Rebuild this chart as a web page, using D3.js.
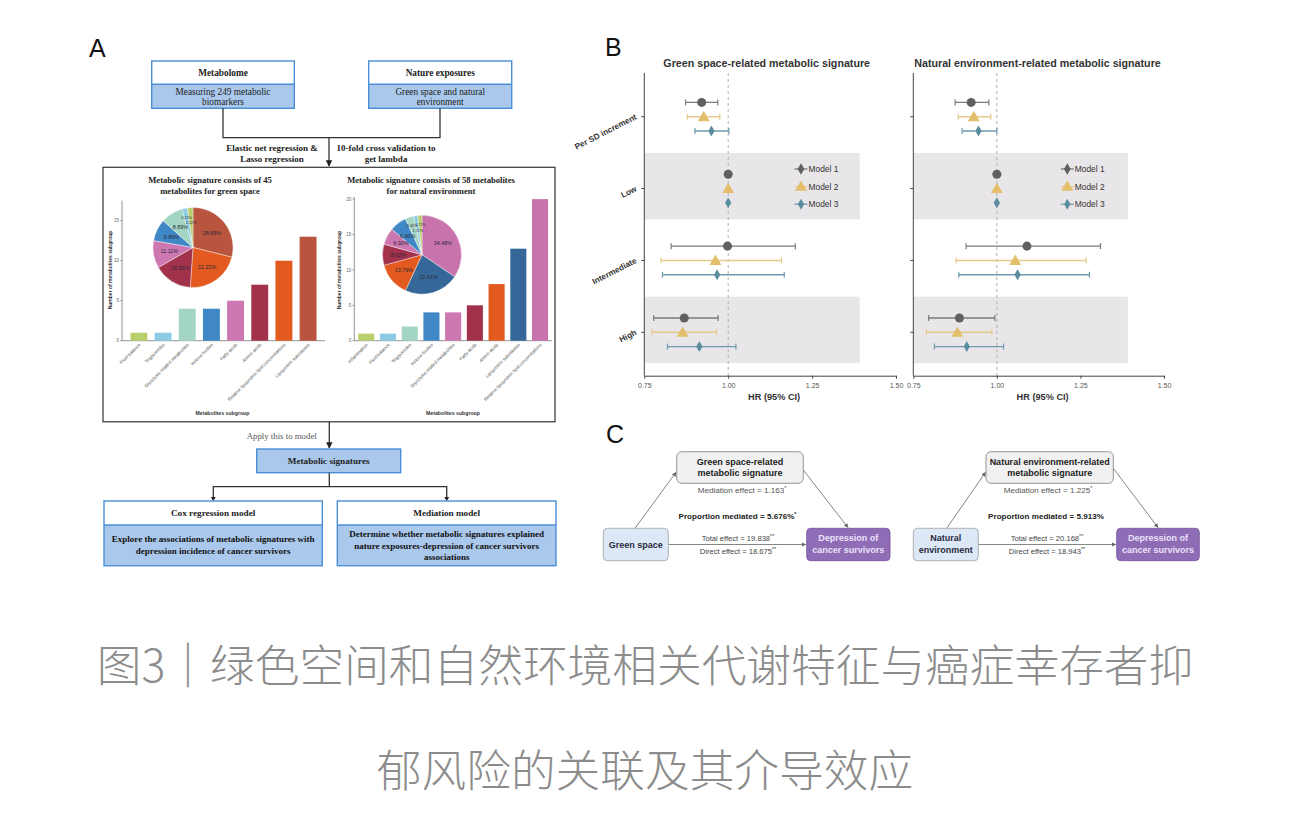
<!DOCTYPE html>
<html><head><meta charset="utf-8">
<script src="https://cdn.jsdelivr.net/npm/d3@7"></script>
<style>body{margin:0;background:#fff}svg{display:block}</style>
</head><body>
<svg id="c" width="1290" height="823"></svg>
<script>
// ---------------- DATA ----------------
const greenCats = ["Fluid balance","Triglycerides","Glycolysis related metabolites","Ketone bodies","Fatty acids","Amino acids","Relative lipoprotein lipid concentrations","Lipoprotein subclasses"];
const greenCounts = [1,1,4,4,5,7,10,13];
const greenTicks = [0,5,10,15];
const naturalCats = ["Inflammation","Fluid balance","Triglycerides","Ketone bodies","Glycolysis related metabolites","Fatty acids","Amino acids","Lipoprotein subclasses","Relative lipoprotein lipid concentrations"];
const naturalCounts = [1,1,2,4,4,5,8,13,20];
const naturalTicks = [0,5,10,15,20];

const forestCats = ["Per SD increment","Low","Intermediate","High"];
const modelNames = ["Model 1","Model 2","Model 3"];
const hrTicks = [0.75,1.00,1.25,1.50];
// [category][model]
const greenHR   = [[0.921,0.927,0.950],[1,1,1],[0.998,0.962,0.967],[0.869,0.864,0.914]];
const greenLo   = [[0.873,0.878,0.901],[null,null,null],[0.830,0.800,0.804],[0.778,0.773,0.819]];
const greenHi   = [[0.969,0.975,1.002],[null,null,null],[1.200,1.159,1.167],[0.970,0.965,1.023]];
const naturalHR = [[0.923,0.931,0.945],[1,1,1],[1.090,1.055,1.062],[0.888,0.882,0.910]];
const naturalLo = [[0.875,0.884,0.896],[null,null,null],[0.908,0.878,0.886],[0.796,0.789,0.813]];
const naturalHi = [[0.976,0.982,1.000],[null,null,null],[1.310,1.267,1.277],[0.994,0.985,1.020]];

const medExposure = [["Green space"],["Natural","environment"]];
const medSignature = [["Green space-related","metabolic signature"],["Natural environment-related","metabolic signature"]];
const medEffect = ["1.163","1.225"];
const medEffectSig = ["*","*"];
const medProportion = ["5.676%","5.913%"];
const medProportionSig = ["*",""];
const medTotal = ["19.838","20.168"];
const medDirect = ["18.675","18.943"];

// ---------------- STYLES ----------------
const C = {yg:"#b8cf6c",lb:"#8ccbe3",mint:"#a3d5c3",blue:"#3f88c5",pink:"#cd78b1",dred:"#a2324b",orange:"#e25a1f",brick:"#b9543f",dblue:"#356899",pink2:"#c873ac"};
const greenColors = [C.yg,C.lb,C.mint,C.blue,C.pink,C.dred,C.orange,C.brick];
const naturalColors = [C.yg,C.lb,C.mint,C.blue,C.pink,C.dred,C.orange,C.dblue,C.pink2];
const modelColors = ["#606060","#e3bf6c","#5a8d9f"];
const modelBarColors = ["#7a7a7a","#e7c98c","#6e9bab"];
const SERIF = "'Liberation Serif','Times New Roman',serif";
const SANS = "'Liberation Sans',Arial,Helvetica,sans-serif";

const svg = d3.select("#c");
svg.append("rect").attr("width",1290).attr("height",823).attr("fill","#fff");

// defs: arrowheads
const defs = svg.append("defs");
defs.append("marker").attr("id","arrA").attr("viewBox","0 0 10 10").attr("refX",9).attr("refY",5)
  .attr("markerWidth",5).attr("markerHeight",5).attr("orient","auto")
  .append("path").attr("d","M0,0L10,5L0,10z").attr("fill","#222");
defs.append("marker").attr("id","arrC").attr("viewBox","0 0 10 10").attr("refX",9).attr("refY",5)
  .attr("markerWidth",5).attr("markerHeight",5).attr("orient","auto")
  .append("path").attr("d","M0,0L10,5L0,10z").attr("fill","#666");

// ---------------- PANEL LABELS ----------------
[["A",89,57],["B",605,56],["C",606,443]].forEach(([t,x,y])=>{
  svg.append("text").attr("x",x).attr("y",y).text(t).attr("font-family",SANS).attr("font-size",25).attr("fill","#111");
});

// ---------------- PANEL A FLOW ----------------
const A = svg.append("g").attr("font-family",SERIF);
function line(g,pts,stroke,w,marker){
  const p=g.append("path").attr("d",d3.line()(pts)).attr("fill","none").attr("stroke",stroke).attr("stroke-width",w);
  if(marker) p.attr("marker-end",`url(#${marker})`);
  return p;
}
function twoBox(x,y,w,h1,h2,title,lines,lineY){
  A.append("rect").attr("x",x).attr("y",y).attr("width",w).attr("height",h1).attr("fill","#fff");
  A.append("rect").attr("x",x).attr("y",y+h1).attr("width",w).attr("height",h2).attr("fill","#a9c8eb");
  A.append("rect").attr("x",x).attr("y",y).attr("width",w).attr("height",h1+h2).attr("fill","none").attr("stroke","#4b8fd7").attr("stroke-width",1.4);
  A.append("line").attr("x1",x).attr("x2",x+w).attr("y1",y+h1).attr("y2",y+h1).attr("stroke","#4b8fd7").attr("stroke-width",1.4);
  A.append("text").attr("x",x+w/2).attr("y",y+h1/2+3.2).attr("text-anchor","middle").attr("font-size",9.3).attr("font-weight","bold").attr("fill","#222").text(title);
  lines.forEach((l,i)=>A.append("text").attr("x",x+w/2).attr("y",lineY[i]).attr("text-anchor","middle").attr("font-size",9.3)
     .attr("fill","#222").text(l));
}
twoBox(151.7,61,142.6,23.3,24,"Metabolome",["Measuring 249 metabolic","biomarkers"],[94.8,105.2]);
twoBox(368.7,61,143,23.3,24,"Nature exposures",["Green space and natural","environment"],[94.8,105.2]);
line(A,[[223,108.3],[223,137.7],[440,137.7],[440,108.3]],"#333",1.3);
line(A,[[329,137.7],[329,166]],"#333",1.3,"arrA");
[["Elastic net regression &",272,151.3],["Lasso regression",272,162],["10-fold cross validation to",386,151.3],["get lambda",386,162]].forEach(([t,x,y])=>{
  A.append("text").attr("x",x).attr("y",y).attr("text-anchor","middle").attr("font-size",9).attr("font-weight","bold").attr("fill","#222").text(t);
});
A.append("rect").attr("x",103).attr("y",167.3).attr("width",452).attr("height",254.5).attr("fill","#fff").attr("stroke","#333").attr("stroke-width",1.2);

line(A,[[329.3,421.8],[329.3,448]],"#333",1.3,"arrA");
A.append("text").attr("x",281.7).attr("y",439).attr("text-anchor","middle").attr("font-size",8.8).attr("fill","#555").text("Apply this to model");
A.append("rect").attr("x",256.7).attr("y",449).attr("width",144).attr("height",23.7).attr("fill","#a9c8eb").attr("stroke","#4b8fd7").attr("stroke-width",1.4);
A.append("text").attr("x",328.7).attr("y",464).attr("text-anchor","middle").attr("font-size",9.2).attr("font-weight","bold").attr("fill","#222").text("Metabolic signatures");
line(A,[[329.3,472.7],[329.3,486.7]],"#333",1.3);
line(A,[[213.3,500],[213.3,486.7],[446.7,486.7],[446.7,500]],"#333",1.3);
A.append("path").attr("d","M210.8,497L213.3,501L215.8,497z").attr("fill","#222");
A.append("path").attr("d","M444.2,497L446.7,501L449.2,497z").attr("fill","#222");
function twoBoxB(x,w,title,lines,ys){
  const y=501,h1=24,h2=40.7;
  A.append("rect").attr("x",x).attr("y",y).attr("width",w).attr("height",h1).attr("fill","#fff");
  A.append("rect").attr("x",x).attr("y",y+h1).attr("width",w).attr("height",h2).attr("fill","#a9c8eb");
  A.append("rect").attr("x",x).attr("y",y).attr("width",w).attr("height",h1+h2).attr("fill","none").attr("stroke","#4b8fd7").attr("stroke-width",1.4);
  A.append("line").attr("x1",x).attr("x2",x+w).attr("y1",y+h1).attr("y2",y+h1).attr("stroke","#4b8fd7").attr("stroke-width",1.4);
  A.append("text").attr("x",x+w/2).attr("y",516.3).attr("text-anchor","middle").attr("font-size",9.2).attr("font-weight","bold").attr("fill","#222").text(title);
  lines.forEach((l,i)=>A.append("text").attr("x",x+w/2).attr("y",ys[i]).attr("text-anchor","middle").attr("font-size",9).attr("font-weight","bold").attr("fill","#111").text(l));
}
twoBoxB(104,218.3,"Cox regression model",["Explore the associations of metabolic signatures with","depression incidence of cancer survivors"],[542.3,553.8]);
twoBoxB(337.3,218.7,"Mediation model",["Determine whether metabolic signatures explained","nature exposures-depression of cancer survivors","associations"],[537.3,548.6,559.9]);

// ---------------- PANEL A: BAR + PIE ----------------
function barPie(o){
  const g = A.append("g");
  const x = d3.scaleBand().domain(o.cats).range(o.xr).paddingInner(o.pi).paddingOuter(o.po);
  const y = d3.scaleLinear().domain(o.yd).range([340.7,o.ytop]);
  g.append("line").attr("x1",o.xr[0]).attr("x2",o.xr[0]).attr("y1",y(o.yd[1])).attr("y2",340.7).attr("stroke","#777").attr("stroke-width",0.8);
  g.append("line").attr("x1",o.xr[0]).attr("x2",o.xr[1]).attr("y1",340.7).attr("y2",340.7).attr("stroke","#777").attr("stroke-width",0.8);
  o.ticks.forEach(t=>{
    g.append("line").attr("x1",o.xr[0]-2).attr("x2",o.xr[0]).attr("y1",y(t)).attr("y2",y(t)).attr("stroke","#777").attr("stroke-width",0.6);
    g.append("text").attr("x",o.xr[0]-3).attr("y",y(t)+1.6).attr("text-anchor","end").attr("font-family",SANS).attr("font-size",4.6).attr("fill","#666").text(t);
  });
  g.selectAll(".bar").data(o.counts).join("rect").attr("x",(d,i)=>x(o.cats[i])).attr("width",x.bandwidth())
    .attr("y",d=>y(d)).attr("height",d=>340.7-y(d)).attr("fill",(d,i)=>o.colors[i]);
  o.cats.forEach(c=>{
    const cx=x(c)+x.bandwidth()/2;
    g.append("text").attr("transform",`translate(${cx+2},${345}) rotate(-45)`).attr("text-anchor","end")
      .attr("font-family",SANS).attr("font-size",4.6).attr("fill","#555").text(c);
  });
  g.append("text").attr("transform",`translate(${o.ylabX},${270}) rotate(-90)`).attr("text-anchor","middle")
    .attr("font-family",SANS).attr("font-size",5).attr("font-weight","bold").attr("fill","#333").text("Number of metabolites subgroup");
  g.append("text").attr("x",o.xlabX).attr("y",414.5).attr("text-anchor","middle").attr("font-family",SANS)
    .attr("font-size",5.2).attr("font-weight","bold").attr("fill","#333").text("Metabolites subgroup");
  o.title.forEach((t,i)=>g.append("text").attr("x",o.titleX).attr("y",182.5+i*11).attr("text-anchor","middle")
    .attr("font-size",8.6).attr("font-weight","bold").attr("fill","#222").text(t));
  // pie (largest first, clockwise from 12 o'clock)
  const vals = o.counts.slice().reverse(), cols = o.colors.slice().reverse();
  const total = d3.sum(vals);
  const arcs = d3.pie().sort(null).value(d=>d)(vals);
  const arc = d3.arc().innerRadius(0).outerRadius(o.r);
  const pg = g.append("g").attr("transform",`translate(${o.pc[0]},${o.pc[1]})`);
  pg.selectAll("path").data(arcs).join("path").attr("d",arc).attr("fill",(d,i)=>cols[i]).attr("stroke","#fff").attr("stroke-width",0.4);
  arcs.forEach((a,i)=>{
    const small = a.data/total < 0.05;
    const rr = small ? o.r*(0.78-0.14*(i%2)) : o.r*0.6;
    const ang = (a.startAngle+a.endAngle)/2;
    pg.append("text").attr("x",Math.sin(ang)*rr).attr("y",-Math.cos(ang)*rr+1.8).attr("text-anchor","middle")
      .attr("font-family",SANS).attr("font-size",small?3.8:5.4).attr("fill","#2a2a3a")
      .text((a.data/total*100).toFixed(2)+"%");
  });
}
barPie({cats:greenCats,counts:greenCounts,colors:greenColors,xr:[122,325],pi:0.3,po:0.35,yd:[0,17.5],ytop:200.7,ticks:greenTicks,
  ylabX:112,xlabX:222.5,title:["Metabolic signature consists of 45","metabolites for green space"],titleX:210,pc:[193,247.5],r:40});
barPie({cats:naturalCats,counts:naturalCounts,colors:naturalColors,xr:[354.3,552],pi:0.26,po:0.18,yd:[0,20.3],ytop:197,ticks:naturalTicks,
  ylabX:340.5,xlabX:453,title:["Metabolic signature consists of 58 metabolites","for natural environment"],titleX:431,pc:[422,254.7],r:39.5});

// ---------------- PANEL B: FOREST ----------------
function symbolFor(j){
  return j===0 ? d3.symbol(d3.symbolCircle,64) : j===1 ? d3.symbol(d3.symbolTriangle,62) : d3.symbol(d3.symbolDiamond,34);
}
function forest(o){
  const g = svg.append("g").attr("font-family",SANS);
  const x = d3.scaleLinear().domain([0.75,1.5]).range(o.xr);
  const y = d3.scalePoint().domain(forestCats).range([116.7,332.3]);
  ["Low","High"].forEach(c=>{
    g.append("rect").attr("x",x(0.75)).attr("y",y(c)-35.6).attr("width",x(1.392)-x(0.75)).attr("height",66.5).attr("fill","#e9e6e9");
  });
  g.append("line").attr("x1",x(1)).attr("x2",x(1)).attr("y1",73).attr("y2",375.7).attr("stroke","#b0b0b0").attr("stroke-width",1).attr("stroke-dasharray","3,3");
  g.append("line").attr("x1",o.xr[0]).attr("x2",o.xr[0]).attr("y1",73).attr("y2",375.7).attr("stroke","#444").attr("stroke-width",1);
  forestCats.forEach(c=>{
    g.append("line").attr("x1",o.xr[0]-3).attr("x2",o.xr[0]).attr("y1",y(c)).attr("y2",y(c)).attr("stroke","#444");
    if(o.labels) g.append("text").attr("transform",`translate(${o.xr[0]-7},${y(c)+2}) rotate(-27)`).attr("text-anchor","end")
      .attr("font-size",8.2).attr("font-weight","bold").attr("fill","#333").text(c);
  });
  const ax = g.append("g").attr("transform","translate(0,375.7)")
    .call(d3.axisBottom(x).tickValues(hrTicks).tickFormat(d3.format(".2f")).tickSize(3).tickSizeOuter(0));
  ax.select(".domain").attr("stroke","#444");
  ax.selectAll(".tick line").attr("stroke","#444");
  ax.selectAll("text").attr("font-family",SANS).attr("font-size",7).attr("fill","#555").attr("dy","0.9em");
  g.append("text").attr("x",(o.xr[0]+o.xr[1])/2+4).attr("y",400).attr("text-anchor","middle").attr("font-size",9.2).attr("font-weight","bold").attr("fill","#333").text("HR (95% CI)");
  g.append("text").attr("x",o.titleX).attr("y",66.5).attr("text-anchor","middle").attr("font-size",10.7).attr("font-weight","bold").attr("fill","#333").text(o.title);
  forestCats.forEach((c,i)=>{
    modelNames.forEach((m,j)=>{
      const yy = y(c)+(j-1)*14.3;
      if(o.lo[i][j]!=null){
        const x1=x(o.lo[i][j]), x2=x(o.hi[i][j]);
        g.append("line").attr("x1",x1).attr("x2",x2).attr("y1",yy).attr("y2",yy).attr("stroke",modelBarColors[j]).attr("stroke-width",1.4);
        [x1,x2].forEach(xx=>g.append("line").attr("x1",xx).attr("x2",xx).attr("y1",yy-3).attr("y2",yy+3).attr("stroke",modelBarColors[j]).attr("stroke-width",1.2));
      }
      g.append("path").attr("d",symbolFor(j)()).attr("transform",`translate(${x(o.hr[i][j])},${yy+(j===1?1:0)})`).attr("fill",modelColors[j]);
    });
  });
  modelNames.forEach((m,j)=>{
    const ly = 169+j*17.6;
    g.append("line").attr("x1",o.legX-6.5).attr("x2",o.legX+6.5).attr("y1",ly).attr("y2",ly).attr("stroke",modelBarColors[j]).attr("stroke-width",1.3);
    g.append("path").attr("d",(j===0?d3.symbol(d3.symbolDiamond,38):symbolFor(j))()).attr("transform",`translate(${o.legX},${ly+(j===1?0.8:0)})`).attr("fill",modelColors[j]);
    g.append("text").attr("x",o.legX+7.5).attr("y",ly+3).attr("font-size",8.4).attr("fill","#333").text(m);
  });
}
forest({xr:[644.3,896],hr:greenHR,lo:greenLo,hi:greenHi,labels:true,title:"Green space-related metabolic signature",titleX:766.7,legX:801});
forest({xr:[913.3,1164],hr:naturalHR,lo:naturalLo,hi:naturalHi,labels:false,title:"Natural environment-related metabolic signature",titleX:1037.5,legX:1067.3});

// ---------------- PANEL C: MEDIATION ----------------
function mediation(k,o){
  const g = svg.append("g").attr("font-family",SANS);
  line(g,[o.a1s,o.a1e],"#777",0.9,"arrC");
  line(g,[o.a2s,o.a2e],"#777",0.9,"arrC");
  line(g,[[o.lb[0]+o.lb[2],544.5],[o.rb[0]-1,544.5]],"#777",0.9,"arrC");
  g.append("rect").attr("x",o.tb[0]).attr("y",451.7).attr("width",o.tb[1]).attr("height",31.6).attr("rx",5).attr("fill","#f1f1f1").attr("stroke","#8a8a8a").attr("stroke-width",0.9);
  medSignature[k].forEach((t,i)=>g.append("text").attr("x",o.tb[0]+o.tb[1]/2).attr("y",464.8+i*11.6).attr("text-anchor","middle").attr("font-size",9).attr("font-weight","bold").attr("fill","#222").text(t));
  g.append("rect").attr("x",o.lb[0]).attr("y",528.3).attr("width",o.lb[2]).attr("height",32.4).attr("rx",4).attr("fill","#dce8f5").attr("stroke","#a9a9a9").attr("stroke-width",0.9);
  const n = medExposure[k].length;
  medExposure[k].forEach((t,i)=>g.append("text").attr("x",o.lb[0]+o.lb[2]/2).attr("y",n===1?547.7:541.3+i*12).attr("text-anchor","middle").attr("font-size",9).attr("font-weight","bold").attr("fill","#2a2a40").text(t));
  g.append("rect").attr("x",o.rb[0]).attr("y",528.3).attr("width",o.rb[1]).attr("height",32.4).attr("rx",4).attr("fill","#8e6db6").attr("stroke","#7a5aa2").attr("stroke-width",0.9);
  ["Depression of","cancer survivors"].forEach((t,i)=>g.append("text").attr("x",o.rb[0]+o.rb[1]/2).attr("y",541.3+i*12).attr("text-anchor","middle").attr("font-size",9).attr("font-weight","bold").attr("fill","#ece2fa").text(t));
  function txt(x,y,main,sup,bold,col,fs){
    const t=g.append("text").attr("x",x).attr("y",y).attr("text-anchor","middle").attr("font-size",fs).attr("font-weight",bold?"bold":"normal").attr("fill",col);
    t.append("tspan").text(main);
    if(sup) t.append("tspan").attr("dy",-3).attr("font-size",5.5).text(sup);
  }
  txt(o.mx,492.5,"Mediation effect = "+medEffect[k],medEffectSig[k],false,"#555",8.1);
  txt(o.px,518.5,"Proportion mediated = "+medProportion[k],medProportionSig[k],true,"#222",8.1);
  txt(o.ex,541,"Total effect = "+medTotal[k],"**",false,"#444",7.6);
  txt(o.ex,553.8,"Direct effect = "+medDirect[k],"**",false,"#444",7.6);
}
mediation(0,{tb:[676.7,126.6],lb:[603.3,0,65],rb:[806.7,83.3],a1s:[635,528.3],a1e:[676,472.3],a2s:[803.3,470],a2e:[848,527.5],mx:742,px:737.5,ex:738});
mediation(1,{tb:[986,127.3],lb:[913.3,0,65],rb:[1116.7,82.6],a1s:[946.7,528.3],a1e:[985.5,472.3],a2s:[1113.3,468.3],a2e:[1158,527.5],mx:1048,px:1046,ex:1047});

// ---------------- CAPTION ----------------
const capLines = ["图3｜绿色空间和自然环境相关代谢特征与癌症幸存者抑","郁风险的关联及其介导效应"];
capLines.forEach((t,i)=>svg.append("text").attr("x",645).attr("y",[682,787][i]).attr("text-anchor","middle")
  .attr("font-family","'Noto Sans CJK SC',sans-serif").attr("font-size",44.7).attr("font-weight",300).attr("fill","#8c8c8c").text(t));
</script>
</body></html>
